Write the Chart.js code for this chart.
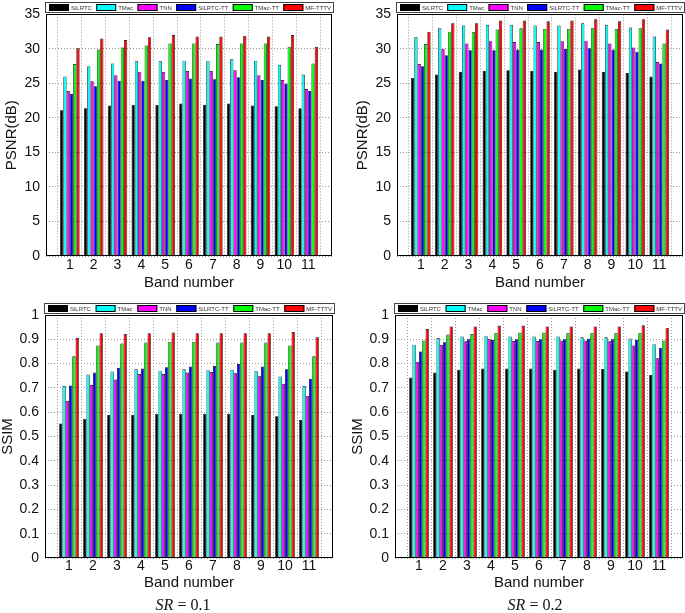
<!DOCTYPE html>
<html><head><meta charset="utf-8">
<script src="https://cdn.jsdelivr.net/npm/chart.js@4.4.1/dist/chart.umd.min.js"></script>
<style>
html,body{margin:0;padding:0;background:#fff;width:685px;height:613px;overflow:hidden;}
canvas{position:absolute;}
.sr{position:absolute;font-family:"Liberation Serif",serif;font-size:16px;color:#111;white-space:nowrap;transform:translate(-50%,-50%);}
.sr i{font-style:italic;}
</style></head><body>
<canvas id="c1" width="342" height="300" style="left:0;top:0"></canvas>
<canvas id="c2" width="343" height="300" style="left:342px;top:0"></canvas>
<canvas id="c3" width="342" height="313" style="left:0;top:300px"></canvas>
<canvas id="c4" width="343" height="313" style="left:342px;top:300px"></canvas>
<div class="sr" style="left:183px;top:605px"><i>SR</i> = 0.1</div>
<div class="sr" style="left:535px;top:605px"><i>SR</i> = 0.2</div>
<script>
// ---- categories / labels ----
const bands = ['1','2','3','4','5','6','7','8','9','10','11'];
const methods = ['SiLRTC','TMac','TNN','SiLRTC-TT','TMac-TT','MF-TTTV'];
const colors = ['#000000','#00ffff','#ff00ff','#0000ff','#00ff00','#ff0000'];
const psnrTicks = [0,5,10,15,20,25,30,35];
const ssimTicks = [0,0.1,0.2,0.3,0.4,0.5,0.6,0.7,0.8,0.9,1];

// ---- PSNR, SR = 0.1 ----
const psnr01_SiLRTC   = [21.1,21.4,21.8,21.9,21.9,22.1,21.9,22.1,21.8,21.7,21.4];
const psnr01_TMac     = [26.0,27.5,27.9,28.2,28.2,28.3,28.3,28.5,28.3,27.7,26.3];
const psnr01_TNN      = [23.9,25.3,26.2,26.7,26.7,26.8,26.8,26.9,26.2,25.5,24.2];
const psnr01_SiLRTCTT = [23.5,24.6,25.4,25.4,25.5,25.7,25.6,25.9,25.5,25.0,23.9];
const psnr01_TMacTT   = [27.8,29.9,30.2,30.5,30.8,30.8,30.7,30.8,30.8,30.3,27.9];
const psnr01_MFTTTV   = [30.1,31.5,31.3,31.7,32.0,31.8,31.8,31.9,31.8,32.0,30.3];

// ---- PSNR, SR = 0.2 ----
const psnr02_SiLRTC   = [25.8,26.3,26.7,26.8,26.9,26.8,26.7,27.0,26.7,26.5,26.0];
const psnr02_TMac     = [31.7,33.0,33.4,33.5,33.5,33.4,33.4,33.7,33.5,33.1,31.8];
const psnr02_TNN      = [27.8,30.0,30.8,31.1,31.0,31.0,31.1,31.2,30.8,30.2,28.1];
const psnr02_SiLRTCTT = [27.5,29.1,29.8,29.8,29.9,29.9,30.0,30.1,29.9,29.6,27.9];
const psnr02_TMacTT   = [30.7,32.5,32.4,32.8,33.0,32.9,32.9,33.0,32.9,33.0,30.8];
const psnr02_MFTTTV   = [32.5,33.7,33.7,34.1,34.1,34.0,34.1,34.3,34.0,34.3,32.8];

// ---- SSIM, SR = 0.1 ----
const ssim01_SiLRTC   = [0.553,0.573,0.588,0.590,0.593,0.594,0.594,0.594,0.588,0.583,0.568];
const ssim01_TMac     = [0.708,0.755,0.767,0.777,0.771,0.777,0.773,0.775,0.770,0.747,0.708];
const ssim01_TNN      = [0.647,0.712,0.735,0.757,0.757,0.763,0.765,0.760,0.748,0.717,0.667];
const ssim01_SiLRTCTT = [0.710,0.763,0.783,0.780,0.785,0.788,0.790,0.798,0.788,0.777,0.738];
const ssim01_TMacTT   = [0.830,0.875,0.883,0.887,0.890,0.890,0.887,0.887,0.887,0.875,0.830];
const ssim01_MFTTTV   = [0.905,0.925,0.922,0.925,0.928,0.925,0.925,0.925,0.925,0.930,0.908];

// ---- SSIM, SR = 0.2 ----
const ssim02_SiLRTC   = [0.743,0.763,0.775,0.780,0.780,0.780,0.775,0.780,0.778,0.768,0.753];
const ssim02_TMac     = [0.878,0.905,0.912,0.913,0.912,0.912,0.912,0.908,0.908,0.903,0.880];
const ssim02_TNN      = [0.808,0.877,0.892,0.900,0.893,0.893,0.895,0.895,0.892,0.875,0.822];
const ssim02_SiLRTCTT = [0.850,0.888,0.900,0.897,0.900,0.900,0.900,0.902,0.900,0.898,0.865];
const ssim02_TMacTT   = [0.895,0.920,0.922,0.925,0.928,0.928,0.925,0.925,0.925,0.925,0.895];
const ssim02_MFTTTV   = [0.942,0.953,0.953,0.957,0.957,0.953,0.953,0.953,0.953,0.958,0.947];

// ---- plugins ----
const frame = {
  id:'frame',
  afterDatasetsDraw(chart){
    const a = chart.chartArea, ctx = chart.ctx;
    ctx.save();
    ctx.strokeStyle = '#000'; ctx.lineWidth = 1;
    ctx.strokeRect(Math.round(a.left)+0.5, Math.round(a.top)+0.5, Math.round(a.right-a.left)-1, Math.round(a.bottom-a.top)-1);
    ctx.restore();
  }
};
const boxLegend = {
  id:'boxLegend',
  afterDraw(chart){
    const ctx = chart.ctx, a = chart.chartArea;
    const y0 = Math.round(a.top) - 12, h = 11;
    const x0 = Math.round(a.left) - 1, x1 = Math.round(a.right) + 2;
    ctx.save();
    ctx.fillStyle = '#fff'; ctx.fillRect(x0, y0, x1-x0, h);
    ctx.strokeStyle = '#444'; ctx.lineWidth = 1;
    ctx.strokeRect(x0+0.5, y0+0.5, x1-x0-1, h-1);
    ctx.font = '6px "Liberation Sans", Arial, sans-serif';
    const items = chart.data.datasets.map(d => ({label:d.label, color:d.backgroundColor, w:ctx.measureText(d.label).width}));
    const boxW = 20, inGap = 2;
    const start = x0 + 4, end = x1 - 3;
    const total = items.reduce((s,it) => s + boxW + inGap + it.w, 0);
    const gap = Math.max(2, (end - start - total) / (items.length - 1));
    let x = start;
    ctx.textBaseline = 'middle';
    items.forEach(it => {
      ctx.fillStyle = it.color;
      ctx.fillRect(x, y0+2, boxW, 7);
      ctx.strokeStyle = '#000';
      ctx.strokeRect(x+0.5, y0+2.5, boxW-1, 6);
      ctx.fillStyle = '#333';
      ctx.fillText(it.label, x + boxW + inGap, y0 + 6);
      x += boxW + inGap + it.w + gap;
    });
    ctx.restore();
  }
};

function makeChart(id, series, yMax, yStep, yTitle, o){
  const labels = [''].concat(bands).concat(['']);
  const datasets = series.map((vals, i) => ({
    label: methods[i],
    data: [null].concat(vals).concat([null]),
    backgroundColor: colors[i],
    borderColor: '#000',
    borderWidth: 0.7,
    categoryPercentage: 0.82,
    barPercentage: 1.0
  }));
  return new Chart(document.getElementById(id), {
    type: 'bar',
    data: {labels, datasets},
    plugins: [frame, boxLegend],
    options: {
      responsive: false,
      animation: false,
      layout: {padding: {left: 0, right: o.padR, top: o.padT, bottom: 0}},
      plugins: {legend: {display: false}, tooltip: {enabled: false}},
      scales: {
        x: {
          type: 'category',
          offset: false,
          grid: {color: '#999', lineWidth: 1, drawTicks: false},
          border: {display: false, dash: [1,2]},
          ticks: {autoSkip: false, maxRotation: 0, padding: o.xPad, color: '#111',
                  font: {family: '"Liberation Sans", Arial, sans-serif', size: 14}},
          title: {display: true, text: 'Band number', color: '#111',
                  font: {family: '"Liberation Sans", Arial, sans-serif', size: 15, lineHeight: 1},
                  padding: {top: 0, bottom: o.xTitlePad}},
          afterFit(s){ s.height = o.xH; }
        },
        y: {
          min: 0, max: yMax,
          grid: {color: '#999', lineWidth: 1, drawTicks: false},
          border: {display: false, dash: [1,2]},
          ticks: {stepSize: yStep, padding: 6, color: '#111',
                  font: {family: '"Liberation Sans", Arial, sans-serif', size: 14},
                  callback: v => String(parseFloat(Number(v).toFixed(2)))},
          title: {display: true, text: yTitle, color: '#111',
                  font: {family: '"Liberation Sans", Arial, sans-serif', size: 15, lineHeight: 1},
                  padding: {top: o.yTitlePad, bottom: 0}},
          afterFit(s){ s.width = o.yW; }
        }
      }
    }
  });
}

makeChart('c1', [psnr01_SiLRTC, psnr01_TMac, psnr01_TNN, psnr01_SiLRTCTT, psnr01_TMacTT, psnr01_MFTTTV],
  psnrTicks[psnrTicks.length-1], psnrTicks[1]-psnrTicks[0], 'PSNR(dB)',
  {padR: 10, padT: 13, xH: 44, yW: 46, xPad: 1, xTitlePad: 10, yTitlePad: 4.5});
makeChart('c2', [psnr02_SiLRTC, psnr02_TMac, psnr02_TNN, psnr02_SiLRTCTT, psnr02_TMacTT, psnr02_MFTTTV],
  psnrTicks[psnrTicks.length-1], psnrTicks[1]-psnrTicks[0], 'PSNR(dB)',
  {padR: 2, padT: 13, xH: 44, yW: 55, xPad: 1, xTitlePad: 10, yTitlePad: 13.5});
makeChart('c3', [ssim01_SiLRTC, ssim01_TMac, ssim01_TNN, ssim01_SiLRTCTT, ssim01_TMacTT, ssim01_MFTTTV],
  ssimTicks[ssimTicks.length-1], 0.1, 'SSIM',
  {padR: 9, padT: 15, xH: 55, yW: 45, xPad: 0, xTitlePad: 22.5, yTitlePad: 0});
makeChart('c4', [ssim02_SiLRTC, ssim02_TMac, ssim02_TNN, ssim02_SiLRTCTT, ssim02_TMacTT, ssim02_MFTTTV],
  ssimTicks[ssimTicks.length-1], 0.1, 'SSIM',
  {padR: 2, padT: 15, xH: 55, yW: 53, xPad: 0, xTitlePad: 22.5, yTitlePad: 8.5});
</script>
</body></html>
